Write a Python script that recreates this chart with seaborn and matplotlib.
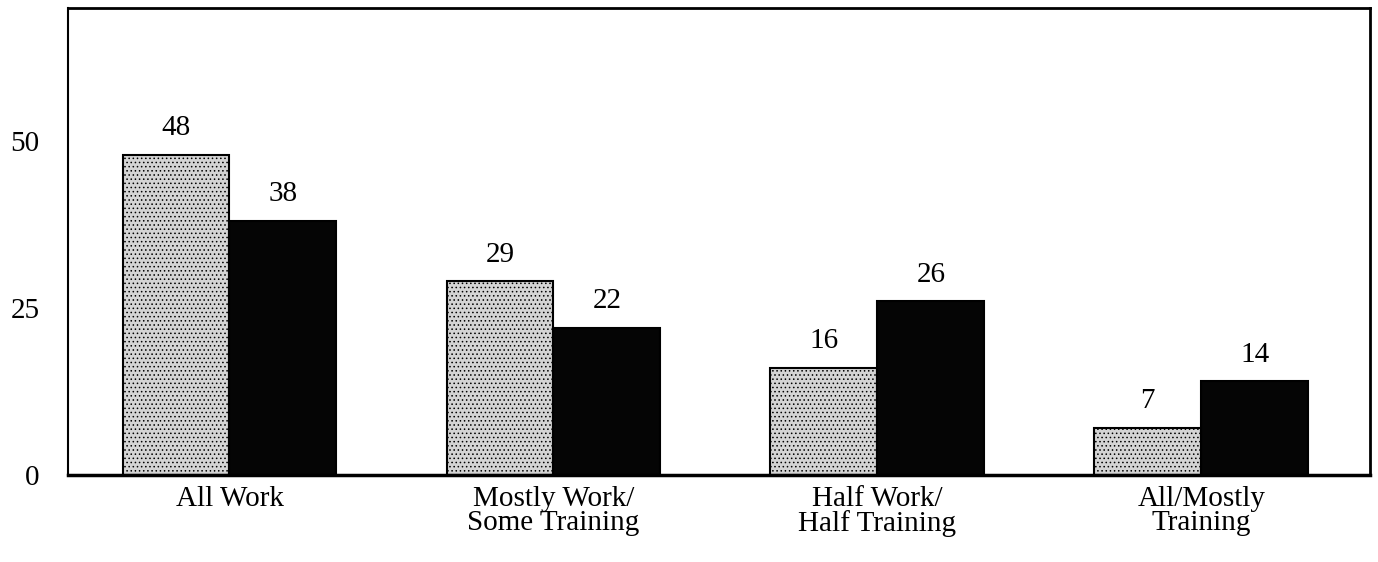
import pandas as pd
import matplotlib
matplotlib.use("Agg")
import matplotlib.pyplot as plt
import seaborn as sns

# ---------------------------
# DATA
# ---------------------------
categories = ["All Work", "Mostly Work/\nSome Training", "Half Work/\nHalf Training", "All/Mostly\nTraining"]
series_names = ["Series 1", "Series 2"]
light_values = [48, 29, 16, 7]
dark_values = [38, 22, 26, 14]
y_ticks = [0, 25, 50]

df = pd.DataFrame({
    "category": categories * 2,
    "series": [series_names[0]] * 4 + [series_names[1]] * 4,
    "value": light_values + dark_values,
})

# ---------------------------
# STYLE
# ---------------------------
sns.set_style("white")
plt.rcParams["font.family"] = ["Liberation Serif", "DejaVu Serif"]
plt.rcParams["hatch.linewidth"] = 0.6
plt.rcParams["text.color"] = "black"
plt.rcParams["xtick.color"] = "black"
plt.rcParams["ytick.color"] = "black"

FS = 21

fig, ax = plt.subplots(figsize=(13.78, 5.62), dpi=100)
fig.subplots_adjust(left=0.049, right=0.994, top=0.986, bottom=0.155)

sns.barplot(data=df, x="category", y="value", hue="series",
            palette=["#d4d4d4", "#050505"], width=0.66, saturation=1,
            edgecolor="black", linewidth=1.5, legend=False, ax=ax)

# stipple on the light bars
for bar in ax.containers[0]:
    bar.set_hatch("....")

for cont in ax.containers:
    ax.bar_label(cont, padding=10, fontsize=FS, color="black")

ax.set_ylim(0, 70)
ax.set_xlim(-0.5, 3.52)
ax.set_yticks(y_ticks)
ax.set_yticklabels([str(t) for t in y_ticks])
ax.tick_params(axis="y", length=0, pad=20, labelsize=FS)
ax.tick_params(axis="x", length=0, pad=8, labelsize=FS)
ax.set_xlabel("")
ax.set_ylabel("")

for side in ["left", "right", "top", "bottom"]:
    ax.spines[side].set_visible(True)
    ax.spines[side].set_color("black")
ax.spines["left"].set_linewidth(1.5)
ax.spines["right"].set_linewidth(2)
ax.spines["top"].set_linewidth(2)
ax.spines["bottom"].set_linewidth(2.5)

for lbl in ax.get_xticklabels():
    lbl.set_linespacing(0.9)

fig.savefig("out.png", dpi=100)
